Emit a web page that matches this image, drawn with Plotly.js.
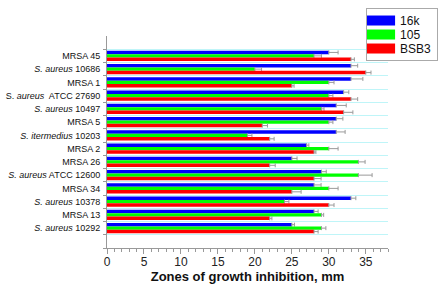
<!DOCTYPE html>
<html>
<head>
<meta charset="utf-8">
<script src="https://cdn.plot.ly/plotly-3.0.1.min.js"></script>
<style>html,body{margin:0;padding:0;background:#fff;}#chart{width:444px;height:299px;}</style>
</head>
<body>
<div id="chart"></div>
<script>
var categories = [
  "MRSA 45",
  "<i>S. aureus</i> 10686",
  "MRSA 1",
  "S. <i>aureus</i>\u00a0 ATCC 27690",
  "<i>S. aureus</i> 10497",
  "MRSA 5",
  "<i>S. itermedius</i> 10203",
  "MRSA 2",
  "MRSA 26",
  "<i>S. aureus</i> ATCC 12600",
  "MRSA 34",
  "<i>S. aureus</i> 10378",
  "MRSA 13",
  "<i>S. aureus</i> 10292"
];
var seriesNames = ["16k", "105", "BSB3"];
var values16k  = [30, 33, 33, 32, 31, 31, 31, 27, 25, 29, 28, 33, 28, 25];
var values105  = [28, 20, 30, 30, 29, 30, 19, 30, 34, 34, 30, 24, 29, 29];
var valuesBSB3 = [33, 35, 25, 33, 32, 21, 22, 28, 22, 28, 25, 30, 22, 28];
var err16k  = [1.25, 0.9, 1.6, 0.7, 1.35, 0.9, 1.2, 0.3, 0.7, 0.65, 0.95, 0.65, 0.55, 0.35];
var err105  = [1.0, 0.9, 0.7, 0.55, 0.35, 0.55, 0.6, 1.25, 0.9, 1.85, 1.25, 0.6, 0.3, 0.6];
var errBSB3 = [0.45, 0.7, 0.3, 0.9, 1.25, 0.7, 0.6, 0.25, 0.75, 0.95, 1.25, 0.7, 0.3, 0.55];
var xTickVals = [0, 5, 10, 15, 20, 25, 30, 35];
var colors = ["#0000ff", "#00ff00", "#ff0000"];

var positions = categories.map(function (c, i) { return i; });
var boundaries = [];
for (var b = -0.5; b <= categories.length + 0.5; b += 1) boundaries.push(b);

var allValues = [values16k, values105, valuesBSB3];
var allErrs = [err16k, err105, errBSB3];
var traces = seriesNames.map(function (name, k) {
  return {
    type: "bar",
    orientation: "h",
    name: name,
    x: allValues[k],
    y: positions,
    marker: { color: colors[k], line: { width: 0 } },
    error_x: {
      type: "data",
      symmetric: false,
      array: allErrs[k],
      arrayminus: allErrs[k].map(function () { return 0; }),
      color: "#9a9a9a",
      thickness: 1,
      width: 2
    },
    hoverinfo: "x+name"
  };
});

var layout = {
  width: 444,
  height: 299,
  margin: { l: 107, r: 56, t: 36, b: 51, autoexpand: false },
  paper_bgcolor: "#ffffff",
  plot_bgcolor: "#ffffff",
  font: { family: "Liberation Sans, Arial, sans-serif", color: "#111" },
  barmode: "group",
  bargap: 0.22,
  bargroupgap: 0,
  showlegend: true,
  legend: {
    x: 0.922, y: 1.132, xanchor: "left", yanchor: "top",
    bordercolor: "#aaaaaa", borderwidth: 1,
    font: { size: 12, color: "#111" },
    bgcolor: "#ffffff",
    tracegroupgap: 0
  },
  xaxis: {
    range: [0, 38],
    tickmode: "array",
    tickvals: xTickVals,
    ticktext: xTickVals.map(String),
    ticks: "outside",
    ticklen: 5,
    tickcolor: "#999",
    tickfont: { size: 12, color: "#222" },
    ticklabelstandoff: -2,
    showline: true,
    linecolor: "#999",
    linewidth: 1,
    showgrid: false,
    zeroline: false,
    minor: { dtick: 1, tick0: 0, ticks: "outside", ticklen: 3, tickcolor: "#999", showgrid: false },
    title: { text: "<b>Zones of growth inhibition, mm</b>", font: { size: 13, color: "#111" }, standoff: 2 }
  },
  yaxis: {
    range: [categories.length + 0.5, -1.5],
    tickmode: "array",
    tickvals: positions,
    ticktext: categories,
    ticks: "",
    tickfont: { size: 9, color: "#111" },
    ticklabelstandoff: 4,
    showline: true,
    linecolor: "#999",
    linewidth: 1,
    showgrid: false,
    zeroline: false,
    minor: {
      tickmode: "array",
      tickvals: boundaries,
      ticks: "outside",
      ticklen: 3,
      tickcolor: "#999",
      showgrid: true,
      gridcolor: "#bff5f8",
      gridwidth: 1
    }
  }
};

Plotly.newPlot("chart", traces, layout, { displayModeBar: false, staticPlot: true }).then(function () {
  // widen the legend swatches and tighten the legend like the reference
  var items = document.querySelectorAll(".legend .traces");
  var firstY = null;
  items.forEach(function (g, i) {
    var m = /translate\(([-\d.]+),\s*([-\d.]+)\)/.exec(g.getAttribute("transform") || "");
    if (m) {
      var x0 = parseFloat(m[1]), y0 = parseFloat(m[2]);
      if (firstY === null) firstY = y0 - 3;
      g.setAttribute("transform", "translate(" + x0 + "," + (firstY + 14 * i) + ")");
    }
    var p = g.querySelector(".legendpoints path");
    if (p) p.setAttribute("d", "M-22,5H8V-5H-22Z");
    var t = g.querySelector("text.legendtext");
    if (t) t.setAttribute("x", "33");
  });
  var bg = document.querySelector(".legend rect.bg");
  if (bg) { bg.setAttribute("width", "71"); bg.setAttribute("height", "52"); }
});
</script>
</body>
</html>
